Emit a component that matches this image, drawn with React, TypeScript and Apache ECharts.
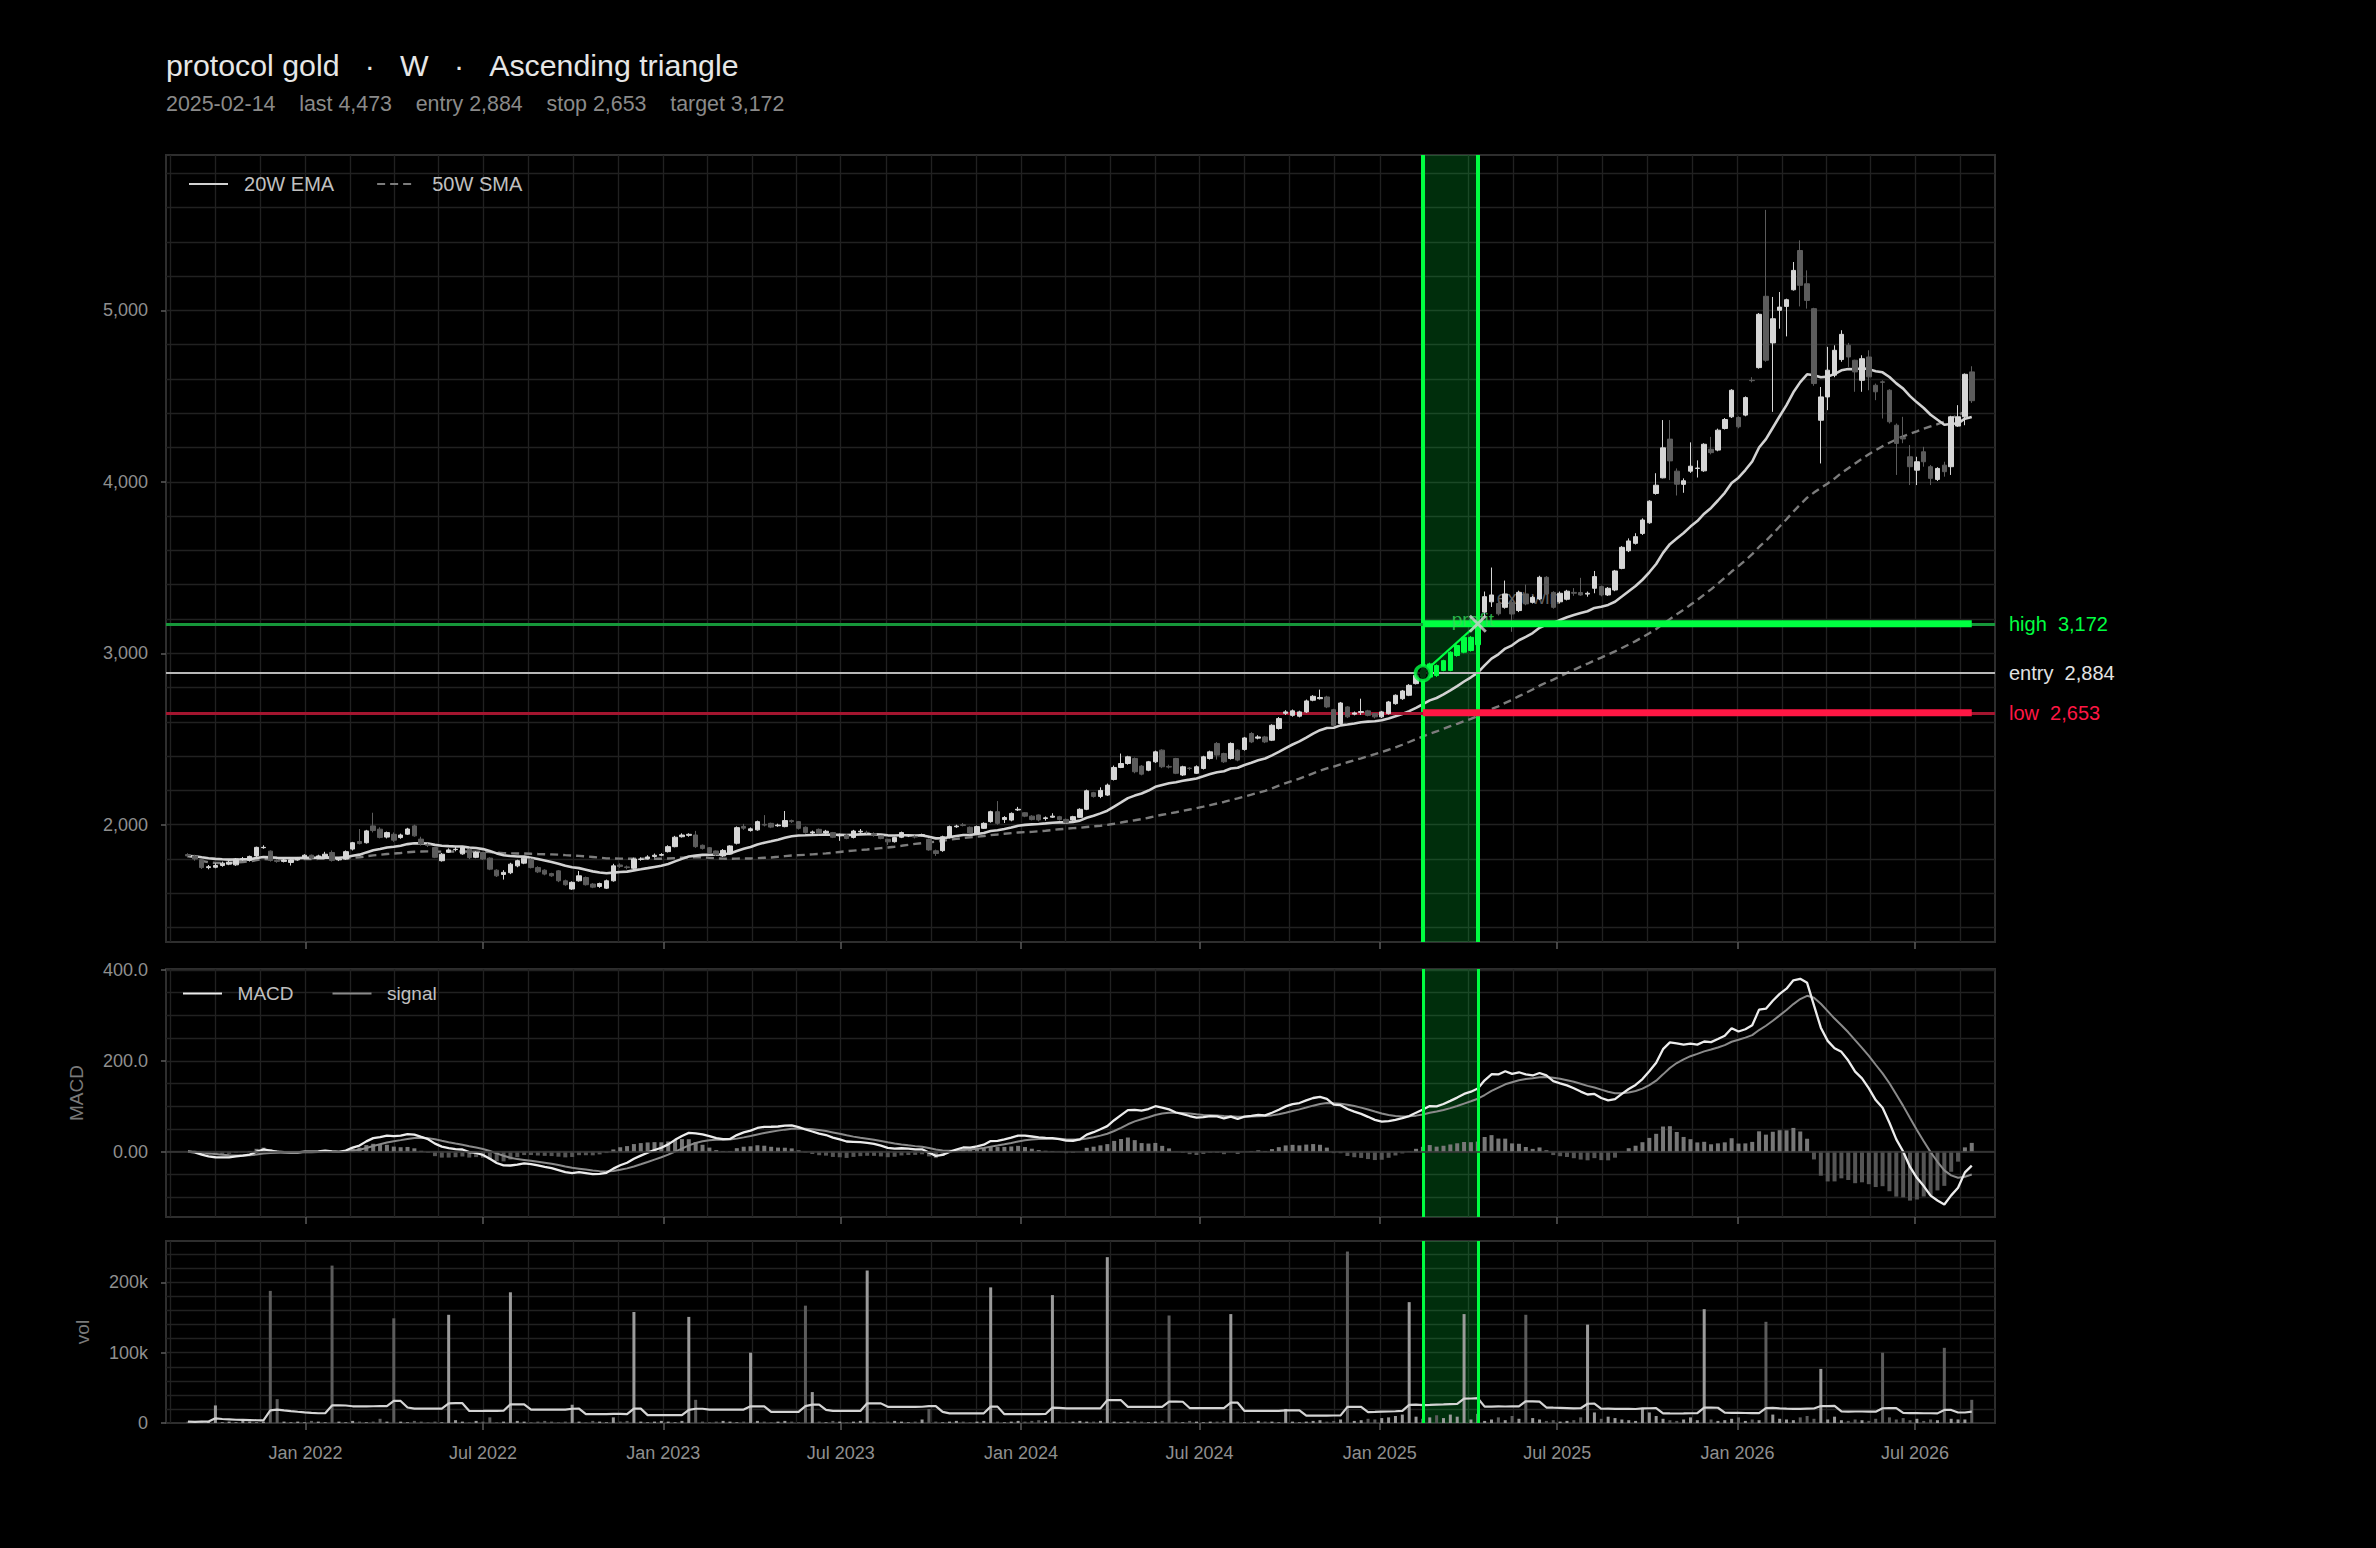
import React, { useEffect, useRef } from 'react';
import * as echarts from 'echarts';

const FONT = '"Liberation Sans", Arial, Helvetica, sans-serif';

// ---------- data (weekly bars, Fridays) ----------
const FIRST_WEEK = Date.UTC(2021, 8, 3);
const WEEK_MS = 7 * 24 * 3600 * 1000;

const opens = [
  1826,1818,1796,1750,1752,1762,1770,1766,1798,1792,
  1818,1866,1846,1792,1786,1780,1795,1808,1822,1808,
  1815,1838,1795,1800,1858,1902,1895,1993,1974,1928,
  1944,1925,1945,1993,1916,1882,1867,1790,1840,1855,
  1830,1857,1810,1838,1805,1735,1710,1720,1760,1776,
  1799,1750,1735,1715,1731,1673,1625,1673,1692,1654,
  1640,1630,1673,1765,1754,1746,1798,1802,1815,1822,
  1843,1872,1930,1938,1940,1880,1866,1847,1818,1830,
  1892,1990,1966,1970,2002,2008,1994,1989,2024,2018,
  1985,1952,1973,1952,1954,1935,1940,1926,1958,1955,
  1948,1935,1915,1901,1927,1935,1932,1938,1915,1848,
  1849,1927,1988,2000,1985,1950,1979,2018,2076,2030,
  2027,2086,2070,2050,2057,2036,2044,2047,2031,2027,
  2043,2090,2187,2165,2173,2264,2334,2357,2386,2342,
  2318,2367,2435,2340,2386,2290,2330,2300,2328,2386,
  2474,2415,2386,2435,2439,2532,2505,2512,2493,2561,
  2650,2638,2633,2658,2726,2735,2745,2671,2590,2687,
  2645,2655,2664,2648,2629,2648,2706,2735,2755,2823,
  2862,2861,2928,2900,2900,2987,3006,3016,3050,3240,
  3300,3290,3268,3297,3249,3346,3297,3317,3443,3355,
  3300,3315,3355,3354,3345,3379,3389,3340,3369,3495,
  3598,3641,3699,3761,3932,4023,4249,4062,3985,4062,
  4078,4064,4190,4185,4311,4379,4375,4389,4592,4666,
  5082,4810,5000,5023,5120,5349,5155,5010,4359,4495,
  4622,4713,4796,4709,4592,4728,4563,4583,4534,4330,
  4258,4146,4068,4175,4088,4014,4097,4088,4325,4379,
  4641,
];
const highs = [
  1834,1825,1800,1765,1775,1785,1792,1806,1812,1820,
  1872,1880,1850,1800,1802,1800,1812,1828,1826,1825,
  1842,1850,1808,1850,1900,1975,1970,2070,1985,1960,
  1955,1948,1982,2000,1930,1892,1870,1835,1862,1870,
  1875,1862,1845,1842,1810,1740,1735,1778,1796,1810,
  1805,1758,1740,1720,1736,1680,1670,1730,1698,1660,
  1662,1680,1772,1775,1762,1808,1810,1822,1832,1834,
  1880,1935,1950,1950,1964,1885,1870,1850,1858,1880,
  1990,2005,1984,2024,2056,2012,2006,2080,2030,2022,
  1990,1966,1978,1970,1958,1948,1945,1970,1975,1965,
  1956,1938,1918,1930,1960,1945,1938,1948,1920,1855,
  1936,1995,2000,2010,1990,1995,2014,2082,2138,2050,
  2072,2104,2074,2056,2060,2048,2067,2052,2036,2052,
  2096,2205,2192,2218,2240,2345,2415,2402,2392,2348,
  2372,2432,2440,2350,2390,2344,2336,2346,2402,2432,
  2482,2420,2480,2440,2512,2540,2522,2518,2586,2628,
  2668,2672,2665,2730,2756,2788,2752,2676,2716,2692,
  2660,2735,2670,2652,2664,2722,2760,2786,2820,2880,
  2910,2945,2935,2962,3012,3052,3100,3100,3235,3360,
  3500,3300,3424,3310,3365,3400,3335,3452,3450,3362,
  3360,3370,3380,3440,3360,3480,3395,3386,3486,3625,
  3670,3700,3787,3892,4050,4360,4360,4078,4020,4230,
  4125,4225,4262,4310,4372,4540,4382,4498,4610,4984,
  5586,5078,5107,5068,5282,5408,5233,5015,4553,4787,
  4796,4884,4810,4712,4738,4767,4573,4592,4540,4340,
  4379,4214,4146,4204,4098,4085,4117,4385,4447,4632,
  4674,
];
const lows = [
  1808,1790,1742,1740,1746,1755,1764,1760,1790,1785,
  1812,1860,1785,1778,1780,1762,1790,1800,1798,1800,
  1810,1785,1788,1795,1850,1885,1890,1955,1920,1920,
  1900,1918,1940,1930,1878,1870,1805,1785,1835,1845,
  1825,1800,1805,1795,1735,1695,1680,1712,1752,1770,
  1745,1718,1705,1696,1665,1644,1620,1668,1645,1630,
  1632,1625,1668,1748,1740,1740,1790,1798,1808,1816,
  1838,1868,1925,1930,1865,1855,1830,1818,1812,1825,
  1885,1970,1960,1965,1990,1980,1988,1985,2010,1972,
  1948,1942,1945,1945,1922,1906,1915,1920,1952,1948,
  1930,1915,1882,1896,1922,1928,1920,1932,1848,1818,
  1842,1920,1982,1990,1945,1945,1975,2012,2000,2010,
  2020,2080,2044,2025,2020,2024,2040,2024,2008,2022,
  2040,2085,2158,2155,2168,2258,2330,2350,2300,2288,
  2312,2360,2330,2328,2295,2284,2318,2296,2322,2380,
  2380,2360,2380,2370,2432,2476,2498,2476,2488,2555,
  2640,2630,2626,2652,2720,2730,2680,2574,2584,2622,
  2638,2640,2632,2620,2622,2642,2700,2728,2750,2818,
  2856,2855,2862,2895,2895,2980,3000,3010,2960,3210,
  3270,3220,3260,3125,3240,3280,3290,3310,3340,3260,
  3290,3308,3335,3335,3330,3350,3332,3334,3362,3490,
  3590,3634,3690,3755,3925,4020,4010,3920,3936,4052,
  4025,4058,4160,4178,4305,4372,4312,4382,4580,4660,
  4700,4408,4893,4848,5115,5023,5010,4560,4107,4418,
  4610,4700,4670,4525,4525,4534,4476,4369,4340,4040,
  4225,3981,3981,4088,3981,4005,4030,4040,4320,4330,
  4460,
];
const closes = [
  1818,1800,1750,1755,1762,1776,1781,1800,1802,1815,
  1868,1868,1792,1786,1794,1795,1806,1822,1805,1818,
  1828,1792,1800,1843,1895,1890,1964,1966,1926,1954,
  1910,1940,1975,1935,1888,1880,1810,1828,1853,1857,
  1867,1808,1838,1800,1741,1702,1722,1770,1790,1805,
  1750,1725,1712,1702,1673,1650,1664,1702,1650,1636,
  1657,1673,1760,1756,1750,1800,1800,1812,1822,1826,
  1872,1927,1940,1944,1872,1862,1838,1824,1850,1876,
  1983,1980,1976,2018,1998,1986,1998,2024,2018,1979,
  1954,1958,1950,1962,1927,1940,1920,1963,1962,1955,
  1942,1920,1900,1925,1954,1936,1928,1942,1853,1832,
  1930,1989,1992,1996,1952,1989,2008,2076,2008,2042,
  2066,2090,2050,2030,2028,2040,2050,2030,2014,2047,
  2090,2198,2165,2200,2231,2334,2357,2396,2309,2295,
  2367,2425,2338,2336,2300,2338,2328,2338,2396,2425,
  2406,2367,2474,2377,2506,2483,2512,2483,2580,2619,
  2658,2664,2658,2722,2749,2742,2687,2580,2710,2629,
  2652,2660,2638,2629,2658,2716,2755,2780,2813,2871,
  2900,2938,2870,2957,3006,3045,3093,3093,3150,3330,
  3340,3230,3346,3229,3355,3288,3326,3443,3346,3268,
  3350,3362,3350,3340,3350,3447,3340,3379,3480,3618,
  3655,3680,3777,3887,3980,4198,4122,3986,4006,4091,
  4080,4219,4170,4301,4363,4534,4321,4491,4590,4977,
  4709,4951,5019,5062,5233,5146,5058,4573,4495,4651,
  4767,4860,4728,4641,4718,4612,4525,4580,4350,4224,
  4250,4088,4117,4117,4020,4078,4059,4379,4379,4627,
  4473,
];
// weekly volume, thousands of contracts
const volumesK = [
  2,1,3,2,25,1,2,1,3,2,
  1,2,188,34,2,1,2,1,3,2,
  1,224,2,1,3,2,1,2,6,2,
  149,2,1,3,2,1,2,1,154,4,
  2,1,3,2,8,1,2,186,3,2,
  1,2,3,2,1,2,26,2,1,3,
  2,1,8,2,3,158,2,1,2,3,
  2,1,3,151,33,2,1,2,3,2,
  1,2,100,3,2,1,2,3,2,1,
  167,44,2,1,3,2,1,2,3,217,
  2,1,2,3,2,1,2,5,20,2,
  1,2,3,2,1,2,3,193,2,1,
  2,3,2,3,4,3,182,2,1,2,
  3,2,2,3,236,2,1,2,3,2,
  1,2,3,153,2,1,3,2,1,2,
  2,3,155,2,1,2,3,2,2,1,
  20,2,1,2,3,4,2,3,5,244,
  3,4,6,5,7,8,10,12,172,9,
  6,8,11,7,12,9,155,5,13,3,
  5,8,4,10,6,154,7,5,3,4,
  2,3,4,8,140,15,6,9,7,5,
  4,3,20,15,10,6,4,3,5,8,
  4,162,5,3,4,6,8,3,5,4,
  144,12,6,5,4,8,10,6,77,5,
  9,4,3,5,4,3,6,100,8,5,
  7,4,6,3,5,4,107,6,5,5,
  33,
];

// ---------- trade setup ----------
const SYMBOL = 'protocol gold';
const TIMEFRAME = 'W';
const PATTERN = 'Ascending triangle';
const SIGNAL_LABEL = '2025-02-14';
const SIGNAL_DATE = Date.UTC(2025, 1, 14);
const EXIT_DATE = Date.UTC(2025, 3, 11);
const LAST_PRICE = 4473;
const ENTRY = 2884;
const STOP = 2653;
const TARGET = 3172;

// ---------- axes ----------
const X_MIN = Date.UTC(2021, 7, 11, 14);
const X_MAX = Date.UTC(2026, 8, 20, 17);
const halfYearMarks = [
  Date.UTC(2021, 6, 1), Date.UTC(2022, 0, 1), Date.UTC(2022, 6, 1), Date.UTC(2023, 0, 1),
  Date.UTC(2023, 6, 1), Date.UTC(2024, 0, 1), Date.UTC(2024, 6, 1), Date.UTC(2025, 0, 1),
  Date.UTC(2025, 6, 1), Date.UTC(2026, 0, 1), Date.UTC(2026, 6, 1), Date.UTC(2027, 0, 1),
];
const PRICE_MIN = 1316, PRICE_MAX = 5906;
const priceLabelTicks = [2000, 3000, 4000, 5000];
const MACD_MIN = -143.6, MACD_MAX = 402;
const macdLabelTicks = [0, 200, 400];
const VOL_MIN = 0, VOL_MAX = 259000;
const volLabelTicks = [0, 100000, 200000];
const MONTHS = ['Jan','Feb','Mar','Apr','May','Jun','Jul','Aug','Sep','Oct','Nov','Dec'];

const GRID_COLOR = '#212121';
const TEXT_GREY = '#8f8f8f';
const GREEN = '#00ff41';
const RED = '#ff1744';

function range(a: number, b: number, step: number) {
  const out: number[] = [];
  for (let v = a; v <= b + 1e-9; v += step) out.push(v);
  return out;
}
function ema(src: number[], n: number) {
  const k = 2 / (n + 1);
  const out: number[] = [];
  src.forEach((v, i) => out.push(i === 0 ? v : v * k + out[i - 1] * (1 - k)));
  return out;
}
function sma(src: number[], n: number) {
  const out: number[] = [];
  let sum = 0;
  src.forEach((v, i) => {
    sum += v;
    if (i >= n) sum -= src[i - n];
    out.push(sum / Math.min(i + 1, n));
  });
  return out;
}
const fmt = (v: number) => v.toLocaleString('en-US');
const nb = (k: number) => '\u00a0'.repeat(k);

function buildOption() {
  const n = Math.min(opens.length, highs.length, lows.length, closes.length, volumesK.length);
  const dates = Array.from({ length: n }, (_, i) => FIRST_WEEK + i * WEEK_MS);
  const cl = closes.slice(0, n);
  const vols = volumesK.slice(0, n).map((v) => v * 1000);

  const ema20 = ema(cl, 20);
  const sma50 = sma(cl, 50);
  const ema12 = ema(cl, 12);
  const ema26 = ema(cl, 26);
  const macd = ema12.map((v, i) => v - ema26[i]);
  const signal = ema(macd, 9);
  const hist = macd.map((v, i) => v - signal[i]);
  const volMa = sma(vols, 20);

  const inBand = (t: number) => t >= SIGNAL_DATE && t <= EXIT_DATE;

  const candleData = dates.map((t, i) => {
    const item: any = { value: [t, opens[i], closes[i], lows[i], highs[i]] };
    if (inBand(t)) {
      item.itemStyle = { color: GREEN, color0: GREEN, borderColor: GREEN, borderColor0: GREEN };
    }
    return item;
  });

  const xLabelTicks = halfYearMarks.filter((t) => t > X_MIN && t < X_MAX);
  const xGridTicks: number[] = [];
  for (let k = 0; k < halfYearMarks.length - 1; k++) {
    const a = halfYearMarks[k], b = halfYearMarks[k + 1];
    for (let j = 0; j < 4; j++) {
      const t = a + ((b - a) * j) / 4;
      if (t > X_MIN && t < X_MAX) xGridTicks.push(t);
    }
  }
  const priceGridTicks = range(1400, 5800, 200);
  const macdGridTicks = range(-100, 400, 50);
  const volGridTicks = range(20000, 240000, 20000);

  const monthFmt = (v: number) => {
    const d = new Date(v);
    return `${MONTHS[d.getUTCMonth()]} ${d.getUTCFullYear()}`;
  };

  const xMajor = (gridIndex: number, showLabels: boolean) => ({
    type: 'value', gridIndex, min: X_MIN, max: X_MAX,
    axisLine: { show: false, onZero: false },
    axisTick: { show: true, length: 7, lineStyle: { color: '#5a5a5a', width: 1.5 }, customValues: xLabelTicks },
    axisLabel: { show: showLabels, customValues: xLabelTicks, formatter: monthFmt, color: TEXT_GREY, fontSize: 18, margin: 21, fontFamily: FONT },
    splitLine: { show: false },
  });
  const xMinor = (gridIndex: number) => ({
    type: 'value', gridIndex, min: X_MIN, max: X_MAX,
    axisLine: { show: false, onZero: false },
    axisTick: { show: false, customValues: xGridTicks },
    axisLabel: { show: false },
    splitLine: { show: true, lineStyle: { color: GRID_COLOR, width: 1.3 } },
  });
  const yMajor = (gridIndex: number, min: number, max: number, ticks: number[], formatter: (v: number) => string, name?: string, nameGap?: number) => ({
    type: 'value', gridIndex, min, max,
    axisLine: { show: false, onZero: false },
    axisTick: { show: true, length: 5, lineStyle: { color: '#5a5a5a', width: 1.5 }, customValues: ticks },
    axisLabel: { customValues: ticks, formatter, color: TEXT_GREY, fontSize: 18, margin: 18, fontFamily: FONT },
    splitLine: { show: false },
    name, nameLocation: 'middle', nameGap,
    nameTextStyle: { color: '#7a7a7a', fontSize: 19, fontFamily: FONT },
  });
  const yMinor = (gridIndex: number, min: number, max: number, ticks: number[]) => ({
    type: 'value', gridIndex, min, max,
    axisLine: { show: false, onZero: false },
    axisTick: { show: false, customValues: ticks },
    axisLabel: { show: false },
    splitLine: { show: true, lineStyle: { color: GRID_COLOR, width: 1.3 } },
  });

  const gridBase = { left: 166, width: 1829, show: true, borderColor: '#2e2e2e', borderWidth: 2, backgroundColor: 'transparent' };

  const bandFill = 'rgba(0, 230, 60, 0.2)';
  const bandLines = (w: number) => [
    { xAxis: SIGNAL_DATE, lineStyle: { color: GREEN, width: w, type: 'solid' } },
    { xAxis: EXIT_DATE, lineStyle: { color: GREEN, width: w, type: 'solid' } },
  ];
  const levelLabel = (text: string, color: string) => ({
    show: true, position: 'end', distance: 14, formatter: () => text, color, fontSize: 20, fontFamily: FONT,
  });
  const legendBase = {
    padding: 0, itemWidth: 39, itemHeight: 14, selectedMode: false,
    itemStyle: { opacity: 0 },
    formatter: (name: string) => nb(2) + name,
  };

  const lastDate = dates[n - 1];

  return {
    animation: false,
    backgroundColor: '#000000',
    textStyle: { fontFamily: FONT },
    title: [
      {
        text: `${SYMBOL}${nb(3)}·${nb(3)}${TIMEFRAME}${nb(3)}·${nb(3)}${PATTERN}`,
        left: 166, top: 50, padding: 0,
        textStyle: { color: '#e6e6e6', fontSize: 30.3, fontWeight: 'normal', fontFamily: FONT },
      },
      {
        text: `${SIGNAL_LABEL}${nb(4)}last ${fmt(LAST_PRICE)}${nb(4)}entry ${fmt(ENTRY)}${nb(4)}stop ${fmt(STOP)}${nb(4)}target ${fmt(TARGET)}`,
        left: 166, top: 93, padding: 0,
        textStyle: { color: '#8a8a8a', fontSize: 21.4, fontWeight: 'normal', fontFamily: FONT },
      },
    ],
    legend: [
      {
        ...legendBase,
        data: ['20W EMA', '50W SMA'], left: 188, top: 174, itemGap: 42,
        textStyle: { color: '#c0c0c0', fontSize: 20, fontFamily: FONT },
      },
      {
        ...legendBase,
        data: ['MACD', 'signal'], left: 182, top: 984, itemGap: 38,
        textStyle: { color: '#c0c0c0', fontSize: 19, fontFamily: FONT },
      },
    ],
    grid: [
      { ...gridBase, top: 155, height: 787 },
      { ...gridBase, top: 969, height: 248 },
      { ...gridBase, top: 1241, height: 182 },
    ],
    xAxis: [xMajor(0, false), xMinor(0), xMajor(1, false), xMinor(1), xMajor(2, true), xMinor(2)],
    yAxis: [
      yMajor(0, PRICE_MIN, PRICE_MAX, priceLabelTicks, (v) => fmt(v)),
      yMinor(0, PRICE_MIN, PRICE_MAX, priceGridTicks),
      yMajor(1, MACD_MIN, MACD_MAX, macdLabelTicks, (v) => (v === 0 ? '0.00' : v.toFixed(1)), 'MACD', 80),
      yMinor(1, MACD_MIN, MACD_MAX, macdGridTicks),
      yMajor(2, VOL_MIN, VOL_MAX, volLabelTicks, (v) => (v === 0 ? '0' : `${v / 1000}k`), 'vol', 74),
      yMinor(2, VOL_MIN, VOL_MAX, volGridTicks),
    ],
    series: [
      // ---- price panel guides ----
      {
        type: 'line', name: 'guides-price', xAxisIndex: 0, yAxisIndex: 0, data: [], silent: true, z: 1,
        markArea: { silent: true, itemStyle: { color: bandFill }, data: [[{ xAxis: SIGNAL_DATE }, { xAxis: EXIT_DATE }]] },
        markLine: {
          silent: true, symbol: ['none', 'none'], label: { show: false },
          data: [
            ...bandLines(4),
            { yAxis: TARGET, lineStyle: { color: '#16973a', width: 3, type: 'solid' }, label: levelLabel(`high${nb(2)}${fmt(TARGET)}`, GREEN) },
            { yAxis: ENTRY, lineStyle: { color: '#b8b8b8', width: 2.2, type: 'solid' }, label: levelLabel(`entry${nb(2)}${fmt(ENTRY)}`, '#e2e2e2') },
            { yAxis: STOP, lineStyle: { color: '#a3152f', width: 3, type: 'solid' }, label: levelLabel(`low${nb(2)}${fmt(STOP)}`, RED) },
          ],
        },
      },
      {
        type: 'line', name: '50W SMA', xAxisIndex: 0, yAxisIndex: 0, z: 3,
        data: dates.map((t, i) => [t, sma50[i]]), symbol: 'none', showSymbol: false,
        lineStyle: { color: '#7c7c7c', width: 2.4, type: [8, 5] }, itemStyle: { color: '#7c7c7c' },
      },
      {
        type: 'line', name: '20W EMA', xAxisIndex: 0, yAxisIndex: 0, z: 4,
        data: dates.map((t, i) => [t, ema20[i]]), symbol: 'none', showSymbol: false,
        lineStyle: { color: '#d2d2d2', width: 2.6 }, itemStyle: { color: '#d2d2d2' },
      },
      {
        type: 'scatter', name: 'exit-note', xAxisIndex: 0, yAxisIndex: 0, z: 3, silent: true,
        data: [[EXIT_DATE, TARGET]], symbolSize: 0,
        label: { show: true, position: 'right', offset: [14, -26], formatter: () => 'exit win', color: '#7a7a7a', fontSize: 19, fontFamily: FONT },
      },
      {
        type: 'line', name: 'trade-path', xAxisIndex: 0, yAxisIndex: 0, z: 4, silent: true,
        data: [[SIGNAL_DATE, ENTRY], [EXIT_DATE, TARGET]], symbol: 'none',
        lineStyle: { color: GREEN, width: 2.2 },
      },
      {
        type: 'candlestick', name: 'price', xAxisIndex: 0, yAxisIndex: 0, z: 5,
        encode: { x: 0, y: [1, 2, 3, 4] }, barWidth: 5,
        itemStyle: { color: '#d6d6d6', color0: '#5c5c5c', borderColor: '#d6d6d6', borderColor0: '#5c5c5c', borderWidth: 1 },
        data: candleData,
      },
      {
        type: 'line', name: 'target-zone', xAxisIndex: 0, yAxisIndex: 0, z: 6, silent: true,
        data: [[SIGNAL_DATE, TARGET], [lastDate, TARGET]], symbol: 'none',
        lineStyle: { color: GREEN, width: 7, cap: 'butt' },
      },
      {
        type: 'line', name: 'stop-zone', xAxisIndex: 0, yAxisIndex: 0, z: 6, silent: true,
        data: [[SIGNAL_DATE, STOP], [lastDate, STOP]], symbol: 'none',
        lineStyle: { color: RED, width: 7, cap: 'butt' },
      },
      {
        type: 'scatter', name: 'profit-note', xAxisIndex: 0, yAxisIndex: 0, z: 7, silent: true,
        data: [[EXIT_DATE, TARGET]], symbolSize: 0,
        label: { show: true, position: 'inside', offset: [-5, -4], formatter: () => 'profit', color: '#35d95c', fontSize: 19, fontFamily: FONT },
      },
      {
        type: 'scatter', name: 'exit-mark', xAxisIndex: 0, yAxisIndex: 0, z: 8, silent: true,
        data: [[EXIT_DATE, TARGET]], symbol: 'path://M0 0L10 10M10 0L0 10', symbolSize: 16,
        itemStyle: { color: 'rgba(0,0,0,0)', borderColor: '#d0d0d0', borderWidth: 3 },
      },
      {
        type: 'scatter', name: 'entry-mark', xAxisIndex: 0, yAxisIndex: 0, z: 8, silent: true,
        data: [[SIGNAL_DATE, ENTRY]], symbol: 'circle', symbolSize: 15,
        itemStyle: { color: '#000000', borderColor: GREEN, borderWidth: 3.5 },
      },

      // ---- MACD panel ----
      {
        type: 'line', name: 'guides-macd', xAxisIndex: 2, yAxisIndex: 2, data: [], silent: true, z: 1,
        markArea: { silent: true, itemStyle: { color: bandFill }, data: [[{ xAxis: SIGNAL_DATE }, { xAxis: EXIT_DATE }]] },
        markLine: {
          silent: true, symbol: ['none', 'none'], label: { show: false },
          data: [...bandLines(3), { yAxis: 0, lineStyle: { color: '#3a3a3a', width: 1.5, type: 'solid' } }],
        },
      },
      {
        type: 'bar', name: 'hist', xAxisIndex: 2, yAxisIndex: 2, z: 2, barWidth: 4, silent: true,
        data: dates.map((t, i) => ({ value: [t, hist[i]], itemStyle: { color: hist[i] >= 0 ? '#777777' : '#555555' } })),
      },
      {
        type: 'line', name: 'signal', xAxisIndex: 2, yAxisIndex: 2, z: 3,
        data: dates.map((t, i) => [t, signal[i]]), symbol: 'none', showSymbol: false,
        lineStyle: { color: '#8a8a8a', width: 2 }, itemStyle: { color: '#8a8a8a' },
      },
      {
        type: 'line', name: 'MACD', xAxisIndex: 2, yAxisIndex: 2, z: 4,
        data: dates.map((t, i) => [t, macd[i]]), symbol: 'none', showSymbol: false,
        lineStyle: { color: '#ececec', width: 2.3 }, itemStyle: { color: '#ececec' },
      },

      // ---- volume panel ----
      {
        type: 'line', name: 'guides-vol', xAxisIndex: 4, yAxisIndex: 4, data: [], silent: true, z: 1,
        markArea: { silent: true, itemStyle: { color: bandFill }, data: [[{ xAxis: SIGNAL_DATE }, { xAxis: EXIT_DATE }]] },
        markLine: { silent: true, symbol: ['none', 'none'], label: { show: false }, data: bandLines(3) },
      },
      {
        type: 'bar', name: 'volume', xAxisIndex: 4, yAxisIndex: 4, z: 2, barWidth: 3, silent: true,
        data: dates.map((t, i) => ({ value: [t, vols[i]], itemStyle: { color: closes[i] >= opens[i] ? '#9a9a9a' : '#5c5c5c' } })),
      },
      {
        type: 'line', name: 'vol-ma', xAxisIndex: 4, yAxisIndex: 4, z: 3, silent: true,
        data: dates.map((t, i) => [t, volMa[i]]), symbol: 'none', showSymbol: false,
        lineStyle: { color: '#d4d4d4', width: 2.2 },
      },
    ],
  };
}

export default function App() {
  const ref = useRef<HTMLDivElement>(null);
  useEffect(() => {
    if (!ref.current) return;
    const chart = echarts.init(ref.current, null, { renderer: 'svg' });
    chart.setOption(buildOption() as any);
    return () => chart.dispose();
  }, []);
  return (
    <div style={{ position: 'fixed', left: 0, top: 0, width: 2376, height: 1548, background: '#000' }}>
      <div ref={ref} style={{ width: 2376, height: 1548 }} />
    </div>
  );
}
